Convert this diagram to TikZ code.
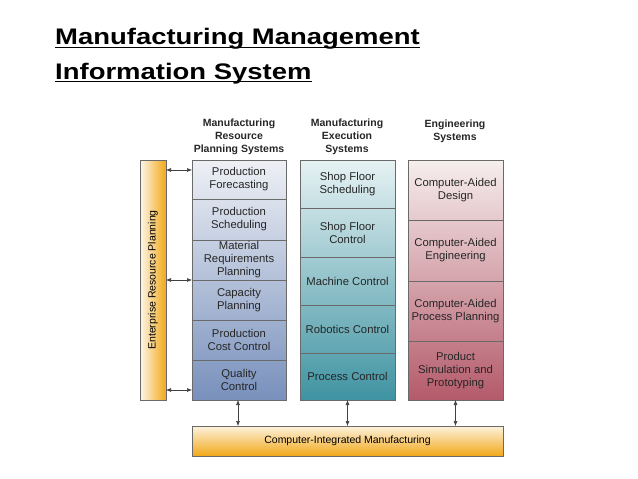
\documentclass[tikz,border=0pt]{standalone}
\usepackage{fontspec}
\setmainfont{Liberation Sans}
\usetikzlibrary{arrows.meta}
\definecolor{ct}{HTML}{EEF0F5}\definecolor{cb}{HTML}{7890BC}
\definecolor{mt}{HTML}{E6F2F3}\definecolor{mb}{HTML}{3F93A2}
\definecolor{et}{HTML}{F6EEEE}\definecolor{eb}{HTML}{B45A6A}
\definecolor{og}{HTML}{F2A81A}\definecolor{ln}{HTML}{6A6A6A}
\tikzset{
 cell/.style={draw=ln,line width=0.8pt,outer sep=0pt,minimum width=94pt,anchor=north,align=center,inner sep=1pt,font=\fontsize{11.3}{13}\selectfont,text=black!85},
 head/.style={align=center,font=\bfseries\fontsize{10.5}{13}\selectfont,text=black!85},
 ttl/.style={anchor=base west,inner sep=0pt,xscale=1.22,font=\bfseries\fontsize{22.5}{26}\selectfont},
 arr/.style={{Latex[length=5pt,width=4pt]}-{Latex[length=5pt,width=4pt]},draw=black!75,line width=0.6pt}
}
\begin{document}
\begin{tikzpicture}[x=1pt,y=-1pt]
\useasboundingbox (0,0) rectangle (638,479);
\node[ttl] (t1) at (55,45) {Manufacturing Management};
\node[ttl] (t2) at (55,79) {Information System};
\draw[line width=1.3pt] ([yshift=-2.5pt]t1.base west) -- ([yshift=-2.5pt]t1.base east);
\draw[line width=1.3pt] ([yshift=-2.5pt]t2.base west) -- ([yshift=-2.5pt]t2.base east);
% headers
\node[head] (h1) at (239,137) {Manufacturing\\Resource\\Planning Systems};
\node[head] (h2) at (347,137) {Manufacturing\\Execution\\Systems};
\node[head] (h3) at (455,131) {Engineering\\Systems};
% ERP
\shade[left color=white!90!og,right color=og,draw=ln,line width=0.8pt] (140,160) rectangle (166,400);
\node[rotate=90,font=\fontsize{10.5}{12}\selectfont] (erp) at (153,280) {Enterprise Resource Planning};
% column shadings
\shade[top color=ct,bottom color=cb] (192,160) rectangle (286,400);
\shade[top color=mt,bottom color=mb] (300,160) rectangle (395,400);
\shade[top color=et,bottom color=eb] (408,160) rectangle (503,400);
% col 1
\node[cell,minimum height=39pt] (a1) at (239,160) {Production\\Forecasting};
\node[cell,minimum height=41pt] (a2) at (a1.south) {Production\\Scheduling};
\node[cell,minimum height=40pt] (a3) at (a2.south) {Material\\Requirements\\Planning};
\node[cell,minimum height=40pt] (a4) at (a3.south) {Capacity\\Planning};
\node[cell,minimum height=40pt] (a5) at (a4.south) {Production\\Cost Control};
\node[cell,minimum height=40pt] (a6) at (a5.south) {Quality\\Control};
% col 2
\node[cell,minimum width=95pt,minimum height=48pt] (b1) at (347.5,160) {Shop Floor\\Scheduling};
\node[cell,minimum width=95pt,minimum height=49pt] (b2) at (b1.south) {Shop Floor\\Control};
\node[cell,minimum width=95pt,minimum height=48pt] (b3) at (b2.south) {Machine Control};
\node[cell,minimum width=95pt,minimum height=48pt] (b4) at (b3.south) {Robotics Control};
\node[cell,minimum width=95pt,minimum height=47pt] (b5) at (b4.south) {Process Control};
% col 3
\node[cell,minimum width=95pt,minimum height=60pt] (c1) at (455.5,160) {Computer-Aided\\Design};
\node[cell,minimum width=95pt,minimum height=61pt] (c2) at (c1.south) {Computer-Aided\\Engineering};
\node[cell,minimum width=95pt,minimum height=60pt] (c3) at (c2.south) {Computer-Aided\\Process Planning};
\node[cell,minimum width=95pt,minimum height=59pt] (c4) at (c3.south) {Product\\Simulation and\\Prototyping};
% CIM
\shade[top color=white!85!og,bottom color=og,draw=ln,line width=0.8pt] (192,426) rectangle (503,456);
\node[font=\fontsize{10.5}{12}\selectfont] (cim) at (347.5,441) {Computer-Integrated Manufacturing};
\coordinate (cimt1) at (238,426);\coordinate (cimt2) at (347.5,426);\coordinate (cimt3) at (455.5,426);
\coordinate (e1) at (166,170);\coordinate (e2) at (166,280);\coordinate (e3) at (166,390);
\coordinate (f1) at (192,170);\coordinate (f2) at (192,280);\coordinate (f3) at (192,390);
\draw[arr] (e1)--(f1);\draw[arr] (e2)--(f2);\draw[arr] (e3)--(f3);
\draw[arr] (a6.south -| cimt1)--(cimt1);
\draw[arr] (b5.south)--(cimt2);
\draw[arr] (c4.south)--(cimt3);
\end{tikzpicture}
\end{document}
